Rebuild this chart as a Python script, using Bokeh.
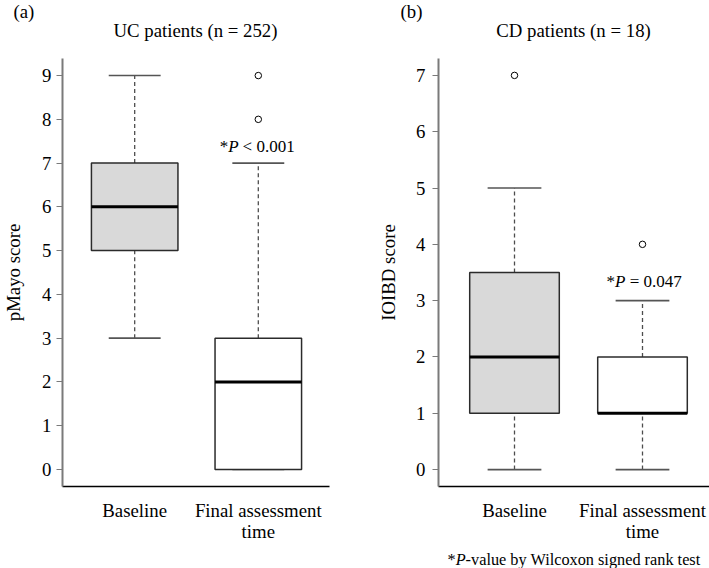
from bokeh.plotting import figure
from bokeh.models import Range1d, FixedTicker, Label
from bokeh.layouts import row, column
from bokeh.embed import file_html
from bokeh.resources import INLINE

# ---------------- data ----------------
categories = ["Baseline", "Final assessment\ntime"]
positions = [1, 2]
fills = ["#d9d9d9", "#ffffff"]

uc_lower = [3, 0]
uc_q1 = [5, 0]
uc_median = [6, 2]
uc_q3 = [7, 3]
uc_upper = [9, 7]
uc_out_pos = [2, 2]
uc_out_val = [8, 9]
uc_ticks = [0, 1, 2, 3, 4, 5, 6, 7, 8, 9]

cd_lower = [0, 0]
cd_q1 = [1, 1]
cd_median = [2, 1]
cd_q3 = [3.5, 2]
cd_upper = [5, 3]
cd_out_pos = [1, 2]
cd_out_val = [7, 4]
cd_ticks = [0, 1, 2, 3, 4, 5, 6, 7]

FONT = "Liberation Serif"
SIZE = 18.8
TICK_SIZE = f"{SIZE}px"
HEAD_H = 58
MAIN_H = 486
FOOT_H = 568 - HEAD_H - MAIN_H
BASE_SHIFT = 5  # renderer draws alphabetic-baseline labels a few px below the anchor


def make_fig(width, border_left, border_right, xr, yr, ticks, ylabel, label_standoff, title_standoff):
    p = figure(width=width, height=MAIN_H, output_backend="svg", toolbar_location=None,
               x_range=Range1d(*xr), y_range=Range1d(*yr), title_location=None,
               min_border_left=border_left, min_border_right=border_right,
               min_border_top=0, min_border_bottom=MAIN_H - 429)
    p.outline_line_color = None
    p.xgrid.visible = False
    p.ygrid.visible = False
    p.background_fill_color = "white"
    p.border_fill_color = "white"
    ya = p.yaxis[0]
    ya.ticker = FixedTicker(ticks=ticks)
    ya.axis_line_color = "#7a7a7a"
    ya.axis_line_width = 2
    ya.major_tick_line_color = "#7a7a7a"
    ya.major_tick_out = 6
    ya.major_tick_in = 0
    ya.minor_tick_line_color = None
    ya.major_label_text_font = FONT
    ya.major_label_text_font_size = TICK_SIZE
    ya.major_label_text_color = "black"
    ya.major_label_standoff = label_standoff
    ya.axis_label = ylabel
    ya.axis_label_text_font = FONT
    ya.axis_label_text_font_style = "normal"
    ya.axis_label_text_font_size = TICK_SIZE
    ya.axis_label_text_color = "black"
    ya.axis_label_standoff = title_standoff
    xa = p.xaxis[0]
    xa.ticker = FixedTicker(ticks=positions)
    xa.major_label_overrides = {pos: lab for pos, lab in zip(positions, categories)}
    xa.axis_line_color = "black"
    xa.axis_line_width = 1.3
    xa.major_tick_line_color = None
    xa.major_tick_out = 0
    xa.major_tick_in = 0
    xa.minor_tick_line_color = None
    xa.major_label_text_font = FONT
    xa.major_label_text_font_size = TICK_SIZE
    xa.major_label_text_line_height = 1.0
    xa.major_label_text_color = "black"
    xa.major_label_standoff = 13
    return p


def draw_boxes(p, lower, q1, med, q3, upper, out_pos, out_val, box_w=0.7, cap_w=0.42):
    left = [x - box_w / 2 for x in positions]
    right = [x + box_w / 2 for x in positions]
    cl = [x - cap_w / 2 for x in positions]
    cr = [x + cap_w / 2 for x in positions]
    p.segment(x0=positions, y0=q3, x1=positions, y1=upper, line_color="#4d4d4d",
              line_width=1.3, line_dash="4 3")
    p.segment(x0=positions, y0=lower, x1=positions, y1=q1, line_color="#4d4d4d",
              line_width=1.3, line_dash="4 3")
    p.segment(x0=cl, y0=upper, x1=cr, y1=upper, line_color="#555555", line_width=1.6)
    p.segment(x0=cl, y0=lower, x1=cr, y1=lower, line_color="#555555", line_width=1.6)
    p.quad(left=left, right=right, bottom=q1, top=q3, fill_color=fills,
           line_color="#2b2b2b", line_width=1.5)
    p.segment(x0=left, y0=med, x1=right, y1=med, line_color="black", line_width=3)
    p.scatter(x=out_pos, y=out_val, marker="circle", size=6.5, fill_color="white",
              line_color="black", line_width=1)


def add_text(p, fx, fy, x_px, base_px, text, size, align="left", style="normal"):
    p.add_layout(Label(x=fx(x_px), y=fy(base_px - BASE_SHIFT), text=text, text_font=FONT,
                       text_font_size=f"{size}px", text_font_style=style,
                       text_align=align, text_baseline="alphabetic", text_color="black"))


def add_pvalue(p, fx, fy, x_px, base_px, rest, size, gap=0.25):
    add_text(p, fx, fy, x_px, base_px, "*", size)
    add_text(p, fx, fy, x_px + 0.5 * size, base_px, "P", size, style="italic")
    add_text(p, fx, fy, x_px + (1.111 + gap) * size, base_px, rest, size)


def ident(v):
    return v


def blank_fig(width, height, xr, yr):
    f = figure(width=width, height=height, output_backend="svg", toolbar_location=None,
               x_range=Range1d(*xr), y_range=Range1d(*yr), title_location=None,
               x_axis_type=None, y_axis_type=None,
               min_border_left=0, min_border_right=0, min_border_top=0, min_border_bottom=0)
    f.outline_line_color = None
    f.xgrid.visible = False
    f.ygrid.visible = False
    f.background_fill_color = "white"
    f.border_fill_color = "white"
    return f


# ---------------- header (panel letters and titles) ----------------
header = blank_fig(709, HEAD_H, (0, 709), (HEAD_H, 0))
add_text(header, ident, ident, 13, 16, "(a)", SIZE)
add_text(header, ident, ident, 195, 35, "UC patients (n = 252)", SIZE, align="center")
add_text(header, ident, ident, 400, 16, "(b)", SIZE)
add_text(header, ident, ident, 573, 35, "CD patients (n = 18)", SIZE, align="center")

# ---------------- left panel (UC) ----------------
L_XR = (0.416, 0.416 + 270 / 125.0)
L_YR = (-0.39, 9.39)
pl = make_fig(360, 59, 31, L_XR, L_YR, uc_ticks, "pMayo score", 5, 15)
draw_boxes(pl, uc_lower, uc_q1, uc_median, uc_q3, uc_upper, uc_out_pos, uc_out_val)


def lfx(px):
    return L_XR[0] + (px - 59) / 125.0


def lfy(py):
    return L_YR[0] + (487 - py) * (L_YR[1] - L_YR[0]) / 429.0


add_pvalue(pl, lfx, lfy, 218, 151, "< 0.001", 17)

# ---------------- right panel (CD) ----------------
R_XR = (0.40625, 0.40625 + 271 / 128.0)
R_YR = (-0.3, 7.3)
pr = make_fig(349, 78, 0, R_XR, R_YR, cd_ticks, "IOIBD score", 7, 14)
draw_boxes(pr, cd_lower, cd_q1, cd_median, cd_q3, cd_upper, cd_out_pos, cd_out_val)


def rfx(px):
    return R_XR[0] + (px - 438) / 128.0


def rfy(py):
    return R_YR[0] + (487 - py) * (R_YR[1] - R_YR[0]) / 429.0


add_pvalue(pr, rfx, rfy, 606, 287, "= 0.047", 17)

# ---------------- footer (footnote) ----------------
footer = blank_fig(709, FOOT_H, (0, 709), (568, HEAD_H + MAIN_H))
add_pvalue(footer, ident, ident, 447, 563.5, "-value by Wilcoxon signed rank test", 16.3, gap=0)

layout = column(header, row(pl, pr), footer)
open("out.html", "w").write(file_html(layout, INLINE))
